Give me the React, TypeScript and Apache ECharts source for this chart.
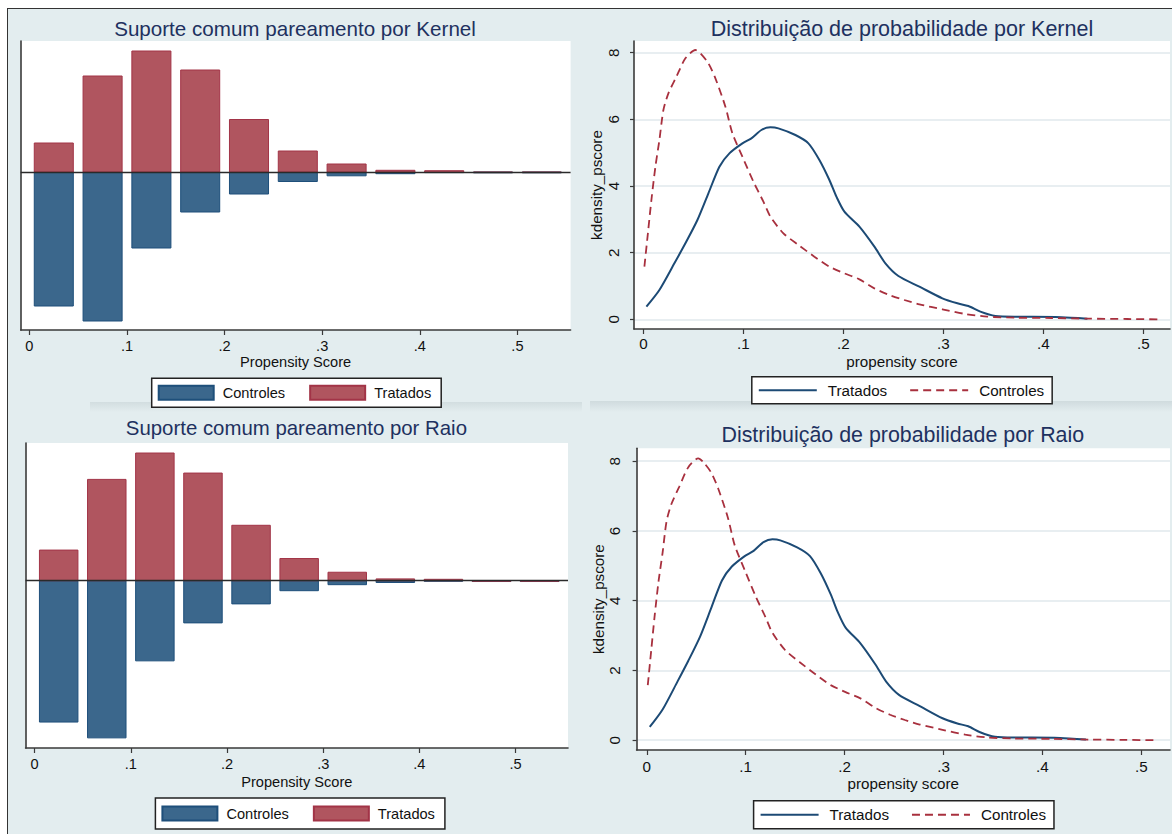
import React, { useEffect, useRef } from "react";
import * as echarts from "echarts";

// ---------- data ----------
const BIN_CENTERS = [0.025, 0.075, 0.125, 0.175, 0.225, 0.275, 0.325, 0.375, 0.425, 0.475, 0.525];
const BIN_WIDTH = 0.05;
const TREATED_FREQ = [29, 96, 121, 102, 52.5, 21, 8, 1.7, 1.3, 0, 0];
const CONTROL_FREQ = [134, 149, 76, 40, 22, 9.5, 3.8, 1.7, 0.5, 0.8, 0.8];

const X_TICKS = [0, 0.1, 0.2, 0.3, 0.4, 0.5];
const DENSITY_TICKS = [0, 2, 4, 6, 8];

const TREATED_PS = [0.003, 0.016, 0.031, 0.042, 0.054, 0.065, 0.076, 0.086, 0.099, 0.108, 0.118, 0.127, 0.135, 0.152, 0.165, 0.176, 0.186, 0.193, 0.201, 0.216, 0.231, 0.242, 0.255, 0.276, 0.299, 0.314, 0.325, 0.337, 0.352, 0.371, 0.389, 0.412, 0.427, 0.444];
const TREATED_DENS = [0.38, 0.88, 1.68, 2.28, 2.98, 3.78, 4.58, 4.98, 5.28, 5.43, 5.68, 5.76, 5.73, 5.53, 5.28, 4.78, 4.18, 3.68, 3.23, 2.78, 2.18, 1.68, 1.3, 0.98, 0.63, 0.48, 0.4, 0.23, 0.1, 0.08, 0.08, 0.07, 0.05, 0.02];

const CONTROL_PS = [0.001, 0.0045, 0.008, 0.012, 0.016, 0.02, 0.025, 0.033, 0.042, 0.052, 0.057, 0.065, 0.072, 0.082, 0.089, 0.099, 0.11, 0.12, 0.127, 0.14, 0.155, 0.171, 0.186, 0.201, 0.216, 0.231, 0.246, 0.261, 0.276, 0.299, 0.322, 0.344, 0.371, 0.408, 0.446, 0.484, 0.516];
const CONTROL_DENS = [1.58, 2.58, 3.58, 4.58, 5.38, 6.28, 6.78, 7.28, 7.83, 8.08, 7.98, 7.68, 7.23, 6.38, 5.58, 4.88, 4.13, 3.53, 3.08, 2.58, 2.23, 1.88, 1.58, 1.38, 1.2, 0.93, 0.73, 0.58, 0.45, 0.3, 0.16, 0.08, 0.05, 0.04, 0.02, 0.01, 0.0];

const NAME_TREATED = "Tratados";
const NAME_CONTROL = "Controles";

// ---------- style ----------
const FONT = "'Liberation Sans', Arial, Helvetica, sans-serif";
const TITLE_COLOR = "#1e3160";
const RED_FILL = "#b0555f";
const RED_EDGE = "#a23447";
const BLUE_FILL = "#3b678c";
const BLUE_EDGE = "#1e4f7a";
const NAVY_LINE = "#1c4a75";
const MAROON_LINE = "#a8303e";
const AXIS_COLOR = "#3a3a3a";
const BAR_FRACTION = 0.8;

const fmtX = (v: number) => (Math.abs(v) < 1e-9 ? "0" : v.toFixed(1).replace(/^0/, ""));

type Panel = {
  kind: "bar" | "density";
  title: string;
  titleX: number;
  titleTop: number;
  titleSize: number;
  textSize: number;
  grid: { left: number; top: number; width: number; height: number };
  x: [number, number];
  y: [number, number];
  legend: { left: number; top: number; pad: number };
  labelMargin: number;
  nameGap: number;
  yLabelMargin?: number;
  yNameGap?: number;
};

const PANELS: Panel[] = [
  {
    kind: "bar",
    title: "Suporte comum pareamento por Kernel",
    titleX: 295,
    titleTop: 18,
    titleSize: 20.6,
    textSize: 14.6,
    grid: { left: 20.7, top: 41, width: 549.9, height: 289 },
    x: [-0.0089, 0.5545],
    y: [-158, 131],
    legend: { left: 151.7, top: 378.3, pad: 6.5 },
    labelMargin: 8,
    nameGap: 24.5,
  },
  {
    kind: "density",
    title: "Distribuição de probabilidade por Kernel",
    titleX: 902,
    titleTop: 17.5,
    titleSize: 21.5,
    textSize: 15.2,
    grid: { left: 634, top: 41, width: 536, height: 288 },
    x: [-0.0094, 0.5266],
    y: [-0.29, 8.35],
    legend: { left: 751.8, top: 376.7, pad: 6 },
    labelMargin: 7,
    nameGap: 24.5,
    yLabelMargin: 13.5,
    yNameGap: 30,
  },
  {
    kind: "bar",
    title: "Suporte comum pareamento por Raio",
    titleX: 296.4,
    titleTop: 418,
    titleSize: 20.4,
    textSize: 14.6,
    grid: { left: 25.6, top: 443, width: 542.4, height: 305 },
    x: [-0.0094, 0.5545],
    y: [-158.6, 130.5],
    legend: { left: 155.4, top: 798, pad: 7.5 },
    labelMargin: 8.5,
    nameGap: 26.5,
  },
  {
    kind: "density",
    title: "Distribuição de probabilidade por Raio",
    titleX: 902.8,
    titleTop: 424.5,
    titleSize: 21.4,
    textSize: 15.2,
    grid: { left: 636.6, top: 448.3, width: 533.4, height: 301.7 },
    x: [-0.0103, 0.529],
    y: [-0.28, 8.37],
    legend: { left: 753.6, top: 800.7, pad: 6.5 },
    labelMargin: 8.5,
    nameGap: 25.5,
    yLabelMargin: 15,
    yNameGap: 30.5,
  },
];

function barRender(fill: string, edge: string) {
  return (params: any, api: any) => {
    const x = api.value(0);
    const v = api.value(1);
    const half = (BIN_WIDTH * BAR_FRACTION) / 2;
    const a = api.coord([x - half, v]);
    const b = api.coord([x + half, 0]);
    return {
      type: "rect",
      shape: {
        x: a[0],
        y: Math.min(a[1], b[1]),
        width: b[0] - a[0],
        height: Math.max(Math.abs(b[1] - a[1]), 0.6),
      },
      style: { fill, stroke: edge, lineWidth: 1 },
    };
  };
}

function buildOption(p: Panel): any {
  const ts = p.textSize;
  const common = {
    animation: false,
    backgroundColor: "transparent",
    textStyle: { fontFamily: FONT },
    title: {
      text: p.title,
      left: p.titleX,
      top: p.titleTop,
      textAlign: "center",
      padding: 0,
      textStyle: { fontFamily: FONT, fontSize: p.titleSize, fontWeight: "normal", color: TITLE_COLOR },
    },
    grid: {
      left: p.grid.left,
      top: p.grid.top,
      width: p.grid.width,
      height: p.grid.height,
      show: true,
      backgroundColor: "#ffffff",
      borderWidth: 0,
      containLabel: false,
    },
  };

  const xAxis = {
    type: "value",
    min: p.x[0],
    max: p.x[1],
    name: p.kind === "bar" ? "Propensity Score" : "propensity score",
    nameLocation: "middle",
    nameGap: p.nameGap,
    nameTextStyle: { fontFamily: FONT, fontSize: ts, color: "#111" },
    axisLine: { show: true, onZero: false, lineStyle: { color: AXIS_COLOR, width: 1.6 } },
    axisTick: { show: true, length: 5, customValues: X_TICKS, lineStyle: { color: AXIS_COLOR, width: 1.2 } },
    axisLabel: {
      customValues: X_TICKS,
      formatter: fmtX,
      margin: p.labelMargin,
      fontFamily: FONT,
      fontSize: ts,
      color: "#111",
    },
    splitLine: { show: false },
  };

  if (p.kind === "bar") {
    return {
      ...common,
      legend: {
        left: p.legend.left,
        top: p.legend.top,
        orient: "horizontal",
        backgroundColor: "#ffffff",
        borderColor: "#222",
        borderWidth: 1.5,
        borderRadius: 0,
        padding: [p.legend.pad, 10, p.legend.pad, 6],
        itemWidth: 55,
        itemHeight: 14,
        itemGap: 24,
        selectedMode: false,
        textStyle: { fontFamily: FONT, fontSize: ts, color: "#111", padding: [0, 0, 0, 4] },
        data: [
          { name: NAME_CONTROL, icon: "rect" },
          { name: NAME_TREATED, icon: "rect" },
        ],
      },
      xAxis,
      yAxis: {
        type: "value",
        min: p.y[0],
        max: p.y[1],
        axisLine: { show: true, onZero: false, lineStyle: { color: AXIS_COLOR, width: 1.6 } },
        axisTick: { show: false },
        axisLabel: { show: false },
        splitLine: { show: false },
      },
      series: [
        {
          name: NAME_CONTROL,
          type: "custom",
          renderItem: barRender(BLUE_FILL, BLUE_EDGE),
          itemStyle: { color: BLUE_FILL, borderColor: BLUE_EDGE, borderWidth: 1 },
          encode: { x: 0, y: 1 },
          data: BIN_CENTERS.map((c, i) => [c, -CONTROL_FREQ[i]]),
          z: 2,
        },
        {
          name: NAME_TREATED,
          type: "custom",
          renderItem: barRender(RED_FILL, RED_EDGE),
          itemStyle: { color: RED_FILL, borderColor: RED_EDGE, borderWidth: 1 },
          encode: { x: 0, y: 1 },
          data: BIN_CENTERS.map((c, i) => [c, TREATED_FREQ[i]]),
          z: 2,
          markLine: {
            silent: true,
            symbol: ["none", "none"],
            label: { show: false },
            z: 5,
            lineStyle: { color: "#2a2a2a", width: 1.3, type: "solid" },
            data: [{ yAxis: 0 }],
          },
        },
      ],
    };
  }

  return {
    ...common,
    legend: {
      left: p.legend.left,
      top: p.legend.top,
      orient: "horizontal",
      backgroundColor: "#ffffff",
      borderColor: "#222",
      borderWidth: 1.5,
      borderRadius: 0,
      padding: [p.legend.pad, 8, p.legend.pad, 6],
      itemWidth: 58,
      itemHeight: 14,
      itemGap: 22,
      selectedMode: false,
      itemStyle: { opacity: 0, borderWidth: 0 },
      textStyle: { fontFamily: FONT, fontSize: ts, color: "#111", padding: [0, 0, 0, 6] },
      data: [NAME_TREATED, NAME_CONTROL],
    },
    xAxis,
    yAxis: {
      type: "value",
      min: p.y[0],
      max: p.y[1],
      name: "kdensity_pscore",
      nameLocation: "middle",
      nameRotate: 90,
      nameGap: p.yNameGap,
      nameTextStyle: { fontFamily: FONT, fontSize: ts, color: "#111" },
      axisLine: { show: true, onZero: false, lineStyle: { color: AXIS_COLOR, width: 1.6 } },
      axisTick: { show: true, length: 4, customValues: DENSITY_TICKS, lineStyle: { color: AXIS_COLOR, width: 1.2 } },
      axisLabel: {
        customValues: DENSITY_TICKS,
        rotate: 90,
        margin: p.yLabelMargin,
        fontFamily: FONT,
        fontSize: ts,
        color: "#111",
      },
      splitLine: { show: true, lineStyle: { color: "#e0e9ed", width: 1.5 } },
    },
    series: [
      {
        name: NAME_TREATED,
        type: "line",
        data: TREATED_PS.map((x, i) => [x, TREATED_DENS[i]]),
        symbol: "none",
        smooth: 0.25,
        lineStyle: { color: NAVY_LINE, width: 2 },
        itemStyle: { color: NAVY_LINE },
        z: 3,
      },
      {
        name: NAME_CONTROL,
        type: "line",
        data: CONTROL_PS.map((x, i) => [x, CONTROL_DENS[i]]),
        symbol: "none",
        smooth: 0.25,
        lineStyle: { color: MAROON_LINE, width: 1.8, type: [8, 5] },
        itemStyle: { color: MAROON_LINE },
        z: 4,
      },
    ],
  };
}

function ChartLayer({ panel }: { panel: Panel }) {
  const ref = useRef<HTMLDivElement>(null);
  useEffect(() => {
    if (!ref.current) return;
    const chart = echarts.init(ref.current, undefined, { renderer: "svg" });
    chart.setOption(buildOption(panel));
    return () => chart.dispose();
  }, [panel]);
  return (
    <div
      ref={ref}
      style={{ position: "absolute", left: 0, top: 0, width: 1172, height: 834 }}
    />
  );
}

export default function App() {
  useEffect(() => {
    document.body.style.margin = "0";
  }, []);
  return (
    <div style={{ position: "relative", width: 1172, height: 834, background: "#ffffff", overflow: "hidden" }}>
      <div
        style={{
          position: "absolute",
          left: 7,
          top: 8,
          width: 1170,
          height: 830,
          background: "#e3edef",
          borderLeft: "1.5px solid #333",
          borderTop: "1.5px solid #333",
          boxSizing: "border-box",
        }}
      />
      <div
        style={{
          position: "absolute",
          left: 90,
          top: 402,
          width: 492,
          height: 10,
          background: "linear-gradient(to bottom, rgba(150,165,170,0.22), rgba(150,165,170,0))",
        }}
      />
      <div
        style={{
          position: "absolute",
          left: 590,
          top: 401,
          width: 582,
          height: 11,
          background: "linear-gradient(to bottom, rgba(150,165,170,0.25), rgba(150,165,170,0))",
        }}
      />
      {PANELS.map((p, i) => (
        <ChartLayer key={i} panel={p} />
      ))}
    </div>
  );
}
